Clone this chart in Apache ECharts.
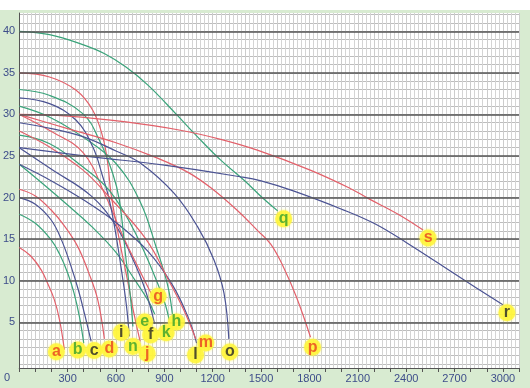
<!DOCTYPE html>
<html><head><meta charset="utf-8">
<script src="https://cdn.jsdelivr.net/npm/echarts@6/dist/echarts.min.js"></script>
<style>html,body{margin:0;padding:0;background:#d8ebd1}#c{width:530px;height:388px}</style>
</head><body><div id="c"></div>
<script>
const names = ['a','b','c','d','e','f','g','h','i','j','k','l','m','n','o','p','q','r','s'];
const curveA = [[0,14],[70,13],[136,11.3],[180,9.5],[218,7.7],[250,5.3],[280,1.7]];
const curveB = [[0,18],[100,16.9],[198,14.9],[250,13.2],[301,10.9],[340,8.5],[373,5.7],[400,2.5]];
const curveC = [[0,20],[100,19.2],[198,17.3],[260,15],[322,11.7],[365,9],[404,6.1],[446,2.7]];
const curveD = [[0,21],[100,20.2],[198,18.5],[280,16.6],[363,14.1],[430,11],[487,7.7],[528,3]];
const curveE = [[0,24],[150,21.6],[300,19.1],[450,16.5],[600,13.4],[720,10],[800,7.6],[840,6]];
const curveF = [[0,26],[200,23.4],[446,20.2],[600,16.6],[700,12.8],[780,9],[840,4.8]];
const curveG = [[0,30],[186,28.1],[396,25.4],[538,20.1],[640,15.5],[740,11.5],[830,8]];
const curveH = [[0,31],[186,29.7],[394,27.3],[600,24.1],[750,19.5],[850,14],[920,9.5],[950,6]];
const curveI = [[0,32],[188,31.3],[353,29.3],[456,26.1],[518,22.5],[559,19.7],[600,15.5],[640,10.5],[665,7],[683,3.3]];
const curveJ = [[0,35],[188,34.5],[353,32.9],[456,30.5],[518,27.3],[549,24.1],[569,20.5],[620,15],[672,10],[712,6],[750,2.7]];
const curveK = [[0,27.5],[186,26.5],[394,23.7],[557,20.9],[700,16.5],[820,11.5],[900,7.5],[930,5.3]];
const curveL = [[0,24],[200,22],[400,19.7],[600,17],[800,13.5],[950,9.5],[1050,5.5],[1100,2.5]];
const curveM = [[0,28],[186,26.1],[396,23.3],[557,20.1],[786,15],[928,10],[1020,6.5],[1095,3]];
const curveN = [[0,33],[186,32.3],[394,30.1],[497,26.9],[580,22.9],[621,19.7],[660,13],[690,8],[705,4.5]];
const curveO = [[0,29],[200,28.3],[400,27.3],[600,25.6],[755,24.1],[961,20.5],[1106,16.5],[1208,12.5],[1270,8.5],[1300,3]];
const curveP = [[0,30],[300,28.3],[600,26.6],[850,24.8],[1050,23],[1200,21],[1350,18.5],[1480,16],[1560,14.4],[1640,11.6],[1720,8],[1807,3.2]];
const curveQ = [[0,40],[188,39.6],[394,38.4],[530,37.3],[662,35.7],[800,33.5],[975,30],[1106,27.3],[1250,24.5],[1400,22],[1507,20],[1603,18.4]];
const curveR = [[0,26],[450,24.9],[900,23.9],[1370,22.5],[1500,22],[1700,20.8],[2000,18.6],[2200,16.9],[2400,14.6],[2750,10.2],[3000,7.1]];
const curveS = [[0,30],[300,29.8],[662,29.1],[1000,28.1],[1250,27],[1477,25.7],[1805,23.3],[2053,21.1],[2164,19.9],[2350,18],[2505,16.1]];
const majorY = [5,10,15,20,25,30,35,40];

const curves = [curveA,curveB,curveC,curveD,curveE,curveF,curveG,curveH,curveI,curveJ,curveK,curveL,curveM,curveN,curveO,curveP,curveQ,curveR,curveS];
// label badge pixel offsets from each curve's last point (layout only)
const labelOffsets = [[-8,2],[-6,7],[3,9],[5,10],[-10,8],[-4,11],[5,-1],[4,8],[-8,-4],[7,12],[-3,13],[-1,12],[10,4],[0,20],[1,13],[2,10],[6,8],[4,8],[5,8]];
const lineColors = ['#e2606a','#3aa37a','#4b5393'];
const letterColors = ['#e8401e','#35a02c','#262626'];
const axisFont = "'Liberation Sans Narrow','Arial Narrow','Liberation Sans',sans-serif";
const axisColor = '#3d4d8a';

const chart = echarts.init(document.getElementById('c'));
const series = [{
  type:'line', data:[], silent:true, z:1,
  markLine:{silent:true, symbol:'none', animation:false, label:{show:false},
    lineStyle:{color:'#555555', width:1.6, type:'solid'},
    data: majorY.map(v=>({yAxis:v}))}
}];
curves.forEach((d,i)=>{
  series.push({type:'line', data:d, smooth:0.4, symbol:'none', silent:true, z:3,
    lineStyle:{width:1.2, color:lineColors[i%3]}});
});
series.push({type:'scatter', z:10, silent:true, symbolSize:17,
  data: curves.map((d,i)=>({value:d[d.length-1], symbolOffset:labelOffsets[i],
    itemStyle:{color:'#fff53a', shadowBlur:3, shadowColor:'rgba(255,245,50,0.9)'},
    label:{show:true, position:'inside', formatter:names[i], color:letterColors[i%3], fontSize:16, fontWeight:'bold', fontFamily:"'Liberation Sans',Arial,sans-serif"}}))
});

chart.setOption({
  animation:false,
  backgroundColor:'#d8ebd1',
  grid:{left:17, top:13, right:11, bottom:20, show:true, backgroundColor:'#ffffff', borderWidth:0},
  xAxis:{type:'value', min:0, max:3100, interval:100,
    axisLine:{show:true, onZero:false, lineStyle:{color:'#555', width:1}},
    axisTick:{show:true, length:4, lineStyle:{color:'#555'}},
    minorTick:{show:false, splitNumber:4},
    minorSplitLine:{show:true, lineStyle:{color:'#d4d4d4', width:1}},
    splitLine:{show:true, lineStyle:{color:'#cccccc', width:1}},
    axisLabel:{formatter:v=>(v>0 && v%300===0)?String(v):'', color:axisColor, fontSize:11, margin:5, fontFamily:axisFont}},
  yAxis:{type:'value', min:-0.5, max:42.2, interval:0.5,
    axisLine:{show:true, onZero:false, lineStyle:{color:'#555', width:1}},
    axisTick:{show:false},
    axisLabel:{formatter:v=>(v>0 && Math.abs(v%5)<1e-6)?String(v):'', color:axisColor, fontSize:11, margin:4, fontFamily:axisFont},
    splitLine:{show:true, lineStyle:{color:['rgba(0,0,0,0)','#bdbdbd'], width:1}}},
  graphic:[
    {type:'rect', shape:{x:0,y:0,width:530,height:10}, style:{fill:'#ffffff'}, silent:true},
    {type:'text', x:7, y:378, style:{text:'0', fill:axisColor, font:"11px "+axisFont, textAlign:'center', textVerticalAlign:'middle'}, silent:true}
  ],
  series: series
});
</script></body></html>
